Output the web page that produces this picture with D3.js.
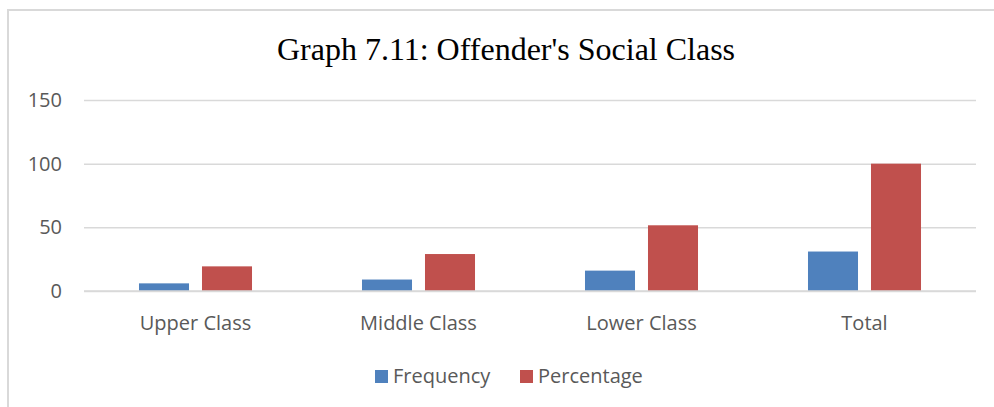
<!DOCTYPE html>
<html>
<head>
<meta charset="utf-8">
<script src="https://cdn.jsdelivr.net/npm/d3@7"></script>
<style>
  html, body { margin: 0; padding: 0; background: #fff; }
  svg { display: block; }
</style>
</head>
<body>
<svg id="chart" width="994" height="407"></svg>
<script>
const title = "Graph 7.11: Offender's Social Class";
const categories = ["Upper Class", "Middle Class", "Lower Class", "Total"];
const seriesNames = ["Frequency", "Percentage"];
const frequency = [6, 9, 16, 31];
const percentage = [19.35, 29.03, 51.61, 100];
const yTicks = [0, 50, 100, 150];
const colors = ["#4F81BD", "#C0504D"];

const svg = d3.select("#chart");
const W = 994, H = 407;
const plot = { left: 84, right: 976, top: 100, bottom: 291 };

// outer chart border (top and left visible)
svg.append("rect")
  .attr("x", 8).attr("y", 10)
  .attr("width", W + 20).attr("height", H + 20)
  .attr("fill", "#fff")
  .attr("stroke", "#d9d9d9").attr("stroke-width", 2);

// title
svg.append("text")
  .attr("x", 506).attr("y", 60)
  .attr("text-anchor", "middle")
  .attr("font-family", "'Liberation Serif', 'Times New Roman', serif")
  .attr("font-size", 32)
  .attr("fill", "#000")
  .text(title);

const y = d3.scaleLinear().domain([0, 150]).range([plot.bottom, plot.top]);
const x0 = d3.scaleBand().domain(categories).range([plot.left, plot.right]).paddingInner(0).paddingOuter(0);
const x1 = d3.scaleBand().domain(seriesNames).range([0, x0.bandwidth()]).paddingInner(0.206).paddingOuter(0.873);

const labelFont = "'Open Sans', sans-serif";
const textColor = "#595959";
const labelSize = 20;

// gridlines
const yAxis = d3.axisLeft(y).tickValues(yTicks).tickSize(-(plot.right - plot.left)).tickPadding(22);
const gy = svg.append("g").attr("transform", `translate(${plot.left},0)`).call(yAxis);
gy.select(".domain").remove();
gy.selectAll(".tick line").attr("stroke", "#d9d9d9").attr("stroke-width", 1.5);
gy.selectAll(".tick text")
  .attr("font-family", labelFont).attr("font-size", labelSize).attr("fill", textColor);

// bars
const data = categories.map((c, i) => ({ cat: c, values: [frequency[i], percentage[i]] }));
const groups = svg.append("g").selectAll("g").data(data).join("g")
  .attr("transform", d => `translate(${x0(d.cat)},0)`);
groups.selectAll("rect").data(d => d.values.map((v, j) => ({ name: seriesNames[j], v, j })))
  .join("rect")
  .attr("x", d => x1(d.name))
  .attr("width", x1.bandwidth())
  .attr("y", d => y(d.v))
  .attr("height", d => y(0) - y(d.v))
  .attr("fill", d => colors[d.j]);

// x axis baseline
svg.append("line")
  .attr("x1", plot.left).attr("x2", plot.right)
  .attr("y1", y(0)).attr("y2", y(0))
  .attr("stroke", "#d9d9d9").attr("stroke-width", 1.5);

// category labels
const xAxis = d3.axisBottom(x0).tickSize(0).tickPadding(0);
const gx = svg.append("g").attr("transform", `translate(0,${y(0)})`).call(xAxis);
gx.select(".domain").remove();
gx.selectAll(".tick text")
  .attr("dy", null).attr("y", 39)
  .attr("font-family", labelFont).attr("font-size", labelSize).attr("fill", textColor);

// legend
const legendX = [375, 520];
const leg = svg.append("g").selectAll("g").data(seriesNames).join("g")
  .attr("transform", (d, i) => `translate(${legendX[i]},370)`);
leg.append("rect").attr("width", 13).attr("height", 13).attr("fill", (d, i) => colors[i]);
leg.append("text").attr("x", 18).attr("y", 13)
  .attr("font-family", labelFont).attr("font-size", labelSize).attr("fill", textColor)
  .text(d => d);
</script>
</body>
</html>
